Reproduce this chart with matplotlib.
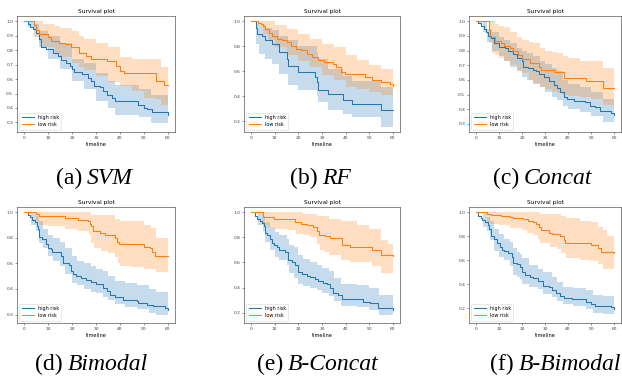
import matplotlib
matplotlib.use("Agg")
import matplotlib.pyplot as plt

# panel (a) SVM
a_high_t = [0, 1.5, 2.5, 3.5, 5, 6, 7, 9, 12, 14, 15.5, 17.5, 19, 20, 21, 24, 26.5, 28, 29, 31.5, 33, 34.5, 36.5, 38, 47.5, 50, 51.5, 53.5, 60]
a_high_s = [1.0, 0.98, 0.96, 0.945, 0.92, 0.88, 0.82, 0.81, 0.78, 0.76, 0.73, 0.71, 0.69, 0.667, 0.65, 0.636, 0.61, 0.59, 0.555, 0.545, 0.515, 0.49, 0.47, 0.445, 0.42, 0.40, 0.39, 0.375, 0.35]
a_high_ct = [0, 1.5, 4, 6, 10, 15, 20, 25, 30, 35, 38, 48, 53, 60]
a_high_lo = [1.0, 0.96, 0.89, 0.82, 0.74, 0.67, 0.585, 0.53, 0.445, 0.40, 0.35, 0.34, 0.295, 0.27]
a_high_hi = [1.0, 1.0, 0.98, 0.93, 0.90, 0.85, 0.74, 0.71, 0.64, 0.585, 0.56, 0.53, 0.49, 0.46]
a_low_t = [0, 4, 5, 6, 10, 11, 14.5, 17, 19.5, 23, 26, 28, 34.5, 38.5, 40, 41.5, 55, 58.5, 60]
a_low_s = [1.0, 0.975, 0.94, 0.91, 0.89, 0.865, 0.853, 0.84, 0.82, 0.78, 0.76, 0.737, 0.725, 0.69, 0.655, 0.645, 0.585, 0.56, 0.56]
a_low_ct = [0, 4, 6, 8, 13, 15, 20, 23, 25, 30, 35, 40, 45, 50, 55, 57, 60]
a_low_lo = [1.0, 0.93, 0.85, 0.82, 0.78, 0.75, 0.71, 0.68, 0.66, 0.62, 0.58, 0.55, 0.52, 0.47, 0.46, 0.42, 0.42]
a_low_hi = [1.0, 1.0, 1.0, 0.98, 0.97, 0.95, 0.93, 0.90, 0.88, 0.85, 0.82, 0.75, 0.74, 0.74, 0.74, 0.68, 0.68]

# panel (b) RF
b_high_t = [0, 2, 2.5, 4.6, 6, 8.8, 11.6, 15, 15.8, 20, 27, 27.8, 28.5, 32.7, 39, 42.5, 55, 60]
b_high_s = [1.0, 0.95, 0.90, 0.88, 0.85, 0.82, 0.75, 0.70, 0.645, 0.59, 0.553, 0.51, 0.447, 0.415, 0.367, 0.335, 0.287, 0.287]
b_high_ct = [0, 2, 3.5, 6, 8.8, 11.6, 15.8, 20, 27.8, 28.5, 32.7, 39, 42.5, 55, 60]
b_high_lo = [1.0, 0.82, 0.74, 0.70, 0.66, 0.58, 0.49, 0.45, 0.40, 0.35, 0.29, 0.26, 0.235, 0.155, 0.155]
b_high_hi = [1.0, 0.99, 0.97, 0.95, 0.93, 0.88, 0.85, 0.80, 0.75, 0.70, 0.62, 0.56, 0.52, 0.47, 0.47]
b_low_t = [0, 3, 4, 5, 6, 7.4, 8.8, 11, 13, 15, 17, 19, 21, 23.5, 25.7, 28.5, 31, 34.8, 36, 38, 39.7, 48, 51, 55, 58.6, 60]
b_low_s = [1.0, 0.99, 0.98, 0.965, 0.94, 0.91, 0.885, 0.86, 0.846, 0.83, 0.805, 0.78, 0.766, 0.74, 0.713, 0.69, 0.67, 0.655, 0.633, 0.593, 0.58, 0.553, 0.527, 0.513, 0.50, 0.48]
b_low_ct = [0, 3, 5, 7, 10, 15, 20, 25, 30, 35, 40, 45, 50, 55, 60]
b_low_lo = [1.0, 0.97, 0.90, 0.85, 0.79, 0.73, 0.68, 0.63, 0.57, 0.53, 0.47, 0.46, 0.43, 0.41, 0.40]
b_low_hi = [1.0, 1.0, 1.0, 1.0, 0.97, 0.94, 0.90, 0.86, 0.82, 0.79, 0.73, 0.69, 0.65, 0.62, 0.58]

# panel (c) Concat
c_high_t = [0, 1, 2, 3.5, 4.3, 5.2, 6.4, 7.8, 9.9, 12.7, 14.1, 16.2, 17.7, 19.8, 20.5, 22.6, 24.7, 26, 27.5, 29.7, 31.8, 33.9, 35.3, 36.7, 38.1, 39.5, 42.4, 47.3, 49.4, 51.5, 53.7, 57.2, 58.6, 60]
c_high_s = [1.0, 0.985, 0.97, 0.947, 0.93, 0.90, 0.885, 0.855, 0.825, 0.82, 0.797, 0.774, 0.75, 0.727, 0.69, 0.68, 0.67, 0.66, 0.64, 0.617, 0.59, 0.566, 0.543, 0.52, 0.485, 0.47, 0.457, 0.446, 0.42, 0.415, 0.39, 0.388, 0.374, 0.36]
c_high_ct = [0, 1, 3, 5, 7, 10, 12, 15, 18, 20, 22, 25, 28, 30, 33, 35, 38, 40, 45, 50, 55, 60]
c_high_lo = [1.0, 0.99, 0.93, 0.86, 0.80, 0.76, 0.73, 0.69, 0.66, 0.62, 0.60, 0.57, 0.55, 0.52, 0.48, 0.46, 0.42, 0.40, 0.38, 0.35, 0.31, 0.28]
c_high_hi = [1.0, 1.0, 1.0, 0.95, 0.93, 0.89, 0.87, 0.85, 0.82, 0.80, 0.78, 0.76, 0.73, 0.71, 0.68, 0.66, 0.60, 0.57, 0.55, 0.52, 0.47, 0.44]
c_low_t = [0, 5.5, 6, 8.5, 10.9, 12, 14.8, 16.2, 18.4, 19.8, 23.3, 27.5, 28.2, 33.9, 38.1, 48, 55, 60]
c_low_s = [1.0, 0.94, 0.895, 0.866, 0.85, 0.83, 0.82, 0.797, 0.77, 0.74, 0.716, 0.69, 0.67, 0.654, 0.612, 0.594, 0.543, 0.543]
c_low_ct = [0, 5.5, 7, 8.5, 10, 12, 15, 18, 20, 23, 25, 28, 30, 33, 35, 38, 40, 45, 50, 55, 60]
c_low_lo = [1.0, 0.85, 0.78, 0.77, 0.75, 0.73, 0.70, 0.67, 0.65, 0.60, 0.58, 0.55, 0.54, 0.52, 0.51, 0.50, 0.49, 0.48, 0.47, 0.43, 0.40]
c_low_hi = [1.0, 1.0, 1.0, 0.98, 0.97, 0.96, 0.93, 0.89, 0.87, 0.86, 0.85, 0.82, 0.80, 0.79, 0.78, 0.76, 0.75, 0.73, 0.73, 0.68, 0.66]

# panel (d) Bimodal
d_high_t = [0, 1.5, 2.4, 3.4, 4.5, 5.2, 5.9, 6.2, 7.3, 9, 10.1, 11.1, 11.8, 14.6, 15.4, 16.1, 18.9, 19.6, 20.6, 21.7, 23.8, 25.9, 28, 30.1, 33, 34.4, 35.8, 37.9, 41.4, 47, 47.7, 51.3, 54, 59, 60]
d_high_s = [1.0, 0.98, 0.96, 0.94, 0.92, 0.89, 0.866, 0.81, 0.79, 0.75, 0.72, 0.71, 0.69, 0.686, 0.66, 0.60, 0.584, 0.544, 0.517, 0.503, 0.482, 0.468, 0.455, 0.436, 0.41, 0.383, 0.356, 0.337, 0.316, 0.307, 0.294, 0.275, 0.267, 0.254, 0.235]
d_high_ct = [0, 1.5, 3, 5, 6.2, 8, 10, 12, 15, 17, 20, 22, 25, 28, 30, 33, 35, 38, 42, 47, 52, 55, 60]
d_high_lo = [1.0, 0.99, 0.90, 0.85, 0.76, 0.72, 0.66, 0.62, 0.58, 0.52, 0.45, 0.43, 0.40, 0.38, 0.37, 0.34, 0.31, 0.28, 0.26, 0.24, 0.21, 0.20, 0.175]
d_high_hi = [1.0, 1.0, 1.0, 0.97, 0.93, 0.87, 0.82, 0.80, 0.77, 0.72, 0.66, 0.62, 0.60, 0.58, 0.56, 0.54, 0.50, 0.46, 0.45, 0.43, 0.40, 0.38, 0.355]
d_low_t = [0, 5, 6, 17, 22.4, 26.6, 27.5, 28, 28.7, 31.5, 33.7, 37.9, 38.6, 39.7, 49.9, 52.7, 53.4, 54.8, 60]
d_low_s = [1.0, 0.985, 0.97, 0.955, 0.94, 0.93, 0.91, 0.89, 0.85, 0.84, 0.825, 0.80, 0.77, 0.75, 0.73, 0.72, 0.69, 0.66, 0.655]
d_low_ct = [0, 5, 6, 10, 17, 22, 27, 28, 29, 32, 35, 38, 39, 40, 45, 50, 53, 55, 60]
d_low_lo = [1.0, 0.93, 0.90, 0.89, 0.87, 0.85, 0.82, 0.76, 0.72, 0.70, 0.68, 0.65, 0.60, 0.58, 0.57, 0.56, 0.56, 0.535, 0.535]
d_low_hi = [1.0, 1.0, 1.0, 1.0, 1.0, 1.0, 1.0, 0.98, 0.98, 0.98, 0.98, 0.95, 0.95, 0.93, 0.93, 0.90, 0.88, 0.80, 0.75]

# panel (e) B-Concat
e_high_t = [0, 1.5, 2.5, 3.6, 4.6, 5.3, 6, 6.7, 8.1, 8.8, 9.5, 10.9, 11.6, 14.4, 15.8, 17.3, 18.7, 20, 21.5, 23.6, 25, 27, 28.5, 30.6, 32, 33.4, 34.8, 36.9, 38.3, 47.4, 50.2, 53.7, 60]
e_high_s = [1.0, 0.97, 0.945, 0.93, 0.918, 0.89, 0.836, 0.82, 0.79, 0.753, 0.74, 0.726, 0.70, 0.685, 0.616, 0.60, 0.58, 0.526, 0.507, 0.49, 0.482, 0.47, 0.452, 0.438, 0.425, 0.397, 0.36, 0.342, 0.307, 0.288, 0.274, 0.238, 0.22]
e_high_ct = [0, 1.5, 3, 5, 6, 8, 10, 12, 15, 16, 18, 20, 22, 25, 28, 30, 33, 35, 38, 45, 50, 54, 60]
e_high_lo = [1.0, 0.99, 0.90, 0.85, 0.76, 0.70, 0.64, 0.62, 0.58, 0.52, 0.48, 0.43, 0.41, 0.40, 0.38, 0.36, 0.33, 0.29, 0.25, 0.245, 0.22, 0.18, 0.16]
e_high_hi = [1.0, 1.0, 1.0, 0.97, 0.92, 0.88, 0.84, 0.82, 0.79, 0.74, 0.72, 0.66, 0.63, 0.60, 0.58, 0.56, 0.53, 0.48, 0.43, 0.42, 0.40, 0.34, 0.34]
e_low_t = [0, 5, 9.5, 18.7, 21, 23.6, 26, 28, 28.7, 31.3, 33.4, 38.3, 41.8, 51, 55, 60]
e_low_s = [1.0, 0.96, 0.945, 0.925, 0.91, 0.90, 0.88, 0.85, 0.82, 0.81, 0.795, 0.74, 0.726, 0.70, 0.66, 0.65]
e_low_ct = [0, 5, 7, 10, 15, 19, 22, 25, 28, 29, 31, 33, 38, 42, 45, 50, 51, 55, 58, 60]
e_low_lo = [1.0, 0.90, 0.88, 0.87, 0.86, 0.83, 0.82, 0.80, 0.75, 0.70, 0.68, 0.66, 0.62, 0.60, 0.60, 0.60, 0.57, 0.52, 0.52, 0.52]
e_low_hi = [1.0, 1.0, 1.0, 1.0, 1.0, 1.0, 0.985, 0.985, 0.97, 0.97, 0.97, 0.95, 0.93, 0.93, 0.90, 0.87, 0.87, 0.78, 0.745, 0.745]

# panel (f) B-Bimodal
f_high_t = [0, 1, 2, 2.8, 3.8, 5.2, 5.6, 6.6, 7.8, 9.2, 10.3, 11.3, 12.3, 14.1, 15.5, 16.2, 17.7, 19.1, 19.8, 21.2, 23.3, 24.7, 26.8, 29, 31.8, 33.2, 34.6, 36.7, 38.1, 41.7, 48, 50.1, 51.6, 58.6, 60]
f_high_s = [1.0, 0.97, 0.95, 0.936, 0.916, 0.897, 0.86, 0.805, 0.777, 0.74, 0.707, 0.685, 0.674, 0.657, 0.624, 0.58, 0.568, 0.54, 0.498, 0.479, 0.462, 0.45, 0.43, 0.387, 0.373, 0.35, 0.323, 0.30, 0.284, 0.275, 0.253, 0.233, 0.22, 0.206, 0.19]
f_high_ct = [0, 1, 3, 5, 6, 8, 10, 12, 15, 16, 18, 19, 20, 23, 27, 29, 33, 35, 38, 42, 48, 51, 55, 60]
f_high_lo = [1.0, 0.99, 0.88, 0.84, 0.77, 0.68, 0.63, 0.60, 0.55, 0.48, 0.46, 0.44, 0.40, 0.38, 0.36, 0.32, 0.29, 0.26, 0.235, 0.22, 0.19, 0.16, 0.15, 0.12]
f_high_hi = [1.0, 1.0, 1.0, 0.96, 0.93, 0.86, 0.82, 0.78, 0.75, 0.70, 0.67, 0.65, 0.62, 0.56, 0.53, 0.50, 0.46, 0.42, 0.38, 0.37, 0.35, 0.31, 0.30, 0.29]
f_low_t = [0, 5, 6.4, 10.9, 14.8, 16.2, 20.5, 22.6, 24.7, 26, 27.5, 28.2, 31.8, 33.2, 36.7, 38.1, 38.8, 50.1, 53, 54.4, 60]
f_low_s = [1.0, 0.986, 0.975, 0.965, 0.96, 0.95, 0.94, 0.93, 0.915, 0.90, 0.875, 0.85, 0.83, 0.82, 0.80, 0.765, 0.74, 0.73, 0.70, 0.67, 0.66]
f_low_ct = [0, 5, 6, 10, 15, 20, 22, 25, 27, 28, 32, 35, 37, 39, 45, 50, 53, 55, 57, 60]
f_low_lo = [1.0, 0.92, 0.90, 0.89, 0.87, 0.85, 0.83, 0.81, 0.78, 0.74, 0.71, 0.69, 0.66, 0.62, 0.60, 0.59, 0.57, 0.53, 0.53, 0.54]
f_low_hi = [1.0, 1.0, 1.0, 1.0, 1.0, 1.0, 1.0, 1.0, 1.0, 0.985, 0.985, 0.985, 0.97, 0.95, 0.93, 0.92, 0.88, 0.85, 0.80, 0.76]

caption_tags = ['(a)', '(b)', '(c)', '(d)', '(e)', '(f)']
caption_names = ['SVM', 'RF', 'Concat', 'Bimodal', 'B-Concat', 'B-Bimodal']
xticks = [0, 10, 20, 30, 40, 50, 60]

panels = [
    (a_high_t, a_high_s, a_high_ct, a_high_lo, a_high_hi, a_low_t, a_low_s, a_low_ct, a_low_lo, a_low_hi),
    (b_high_t, b_high_s, b_high_ct, b_high_lo, b_high_hi, b_low_t, b_low_s, b_low_ct, b_low_lo, b_low_hi),
    (c_high_t, c_high_s, c_high_ct, c_high_lo, c_high_hi, c_low_t, c_low_s, c_low_ct, c_low_lo, c_low_hi),
    (d_high_t, d_high_s, d_high_ct, d_high_lo, d_high_hi, d_low_t, d_low_s, d_low_ct, d_low_lo, d_low_hi),
    (e_high_t, e_high_s, e_high_ct, e_high_lo, e_high_hi, e_low_t, e_low_s, e_low_ct, e_low_lo, e_low_hi),
    (f_high_t, f_high_s, f_high_ct, f_high_lo, f_high_hi, f_low_t, f_low_s, f_low_ct, f_low_lo, f_low_hi),
]

W, H = 622, 383
fig = plt.figure(figsize=(W / 100, H / 100), dpi=100)

# axes boxes in pixels: left, right, top, bottom
lefts = [17, 244, 469]
rights = [175, 400, 621]
tops = [16, 207]
bottoms = [132, 323]
splits = [84.5, 320.5, 521.5, 65.5, 286, 516.5]
baselines = [184, 370]

for i, p in enumerate(panels):
    r, c = divmod(i, 3)
    x0, x1 = lefts[c], rights[c]
    y0, y1 = tops[r], bottoms[r]
    ax = fig.add_axes([x0 / W, 1 - y1 / H, (x1 - x0) / W, (y1 - y0) / H])

    ht, hs, hct, hlo, hhi, lt, ls, lct, llo, lhi = p
    ax.step(ht, hs, where='post', color='C0', lw=0.75, label='high risk')
    ax.fill_between(hct, hlo, hhi, step='post', color='C0', alpha=0.25, lw=0)
    ax.step(lt, ls, where='post', color='C1', lw=0.75, label='low risk')
    ax.fill_between(lct, llo, lhi, step='post', color='C1', alpha=0.25, lw=0)

    ax.set_xticks(xticks)
    ax.set_title('Survival plot', fontsize=4.2, pad=2.5)
    ax.set_xlabel('timeline', fontsize=3.6, labelpad=1.5)
    ax.tick_params(labelsize=3.2, length=1.5, width=0.4, pad=1.2, colors='0.25')
    for s in ax.spines.values():
        s.set_linewidth(0.5)
        s.set_color('0.35')
    ax.legend(loc='lower left', fontsize=3.5, handlelength=2.5, borderpad=0.5,
              labelspacing=0.4, frameon=True, fancybox=True, framealpha=0.8)
    leg = ax.get_legend()
    leg.get_frame().set_linewidth(0.4)

    xs = splits[i] / W
    yb = 1 - baselines[r] / H
    fig.text(xs - 2.5 / W, yb, caption_tags[i], ha='right', va='baseline',
             fontsize=17, family='Liberation Serif')
    fig.text(xs + 2.0 / W, yb, caption_names[i], ha='left', va='baseline',
             fontsize=17, family='Liberation Serif', style='italic')

fig.savefig('out.png', dpi=100)
